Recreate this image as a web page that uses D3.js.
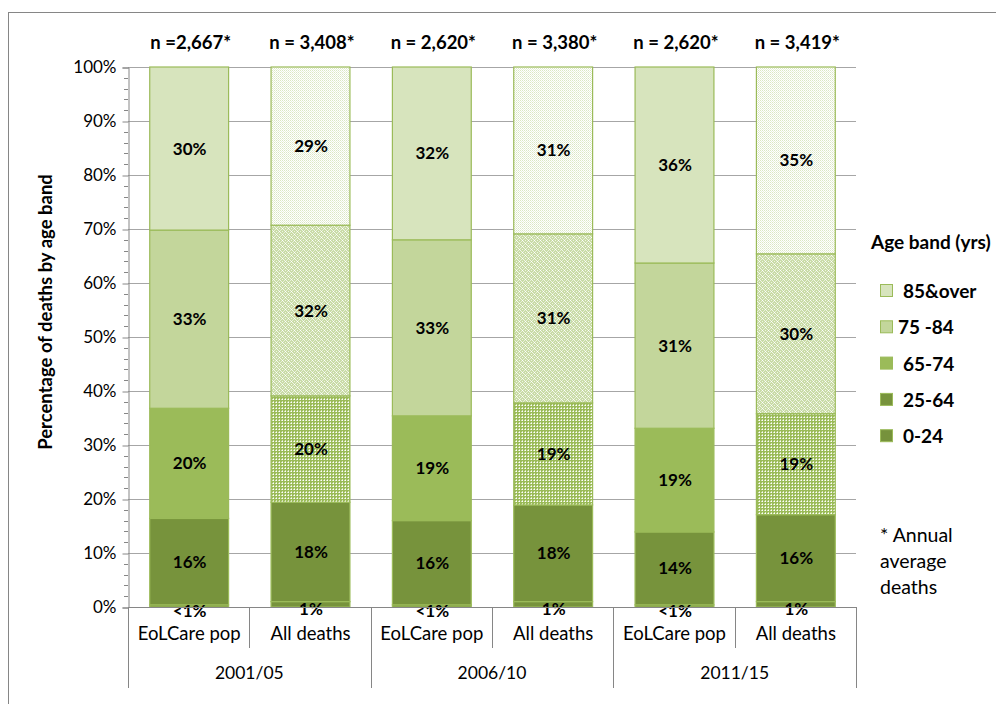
<!DOCTYPE html>
<html>
<head>
<meta charset="utf-8">
<script src="https://cdn.jsdelivr.net/npm/d3@7"></script>
<style>
  html, body { margin: 0; padding: 0; background: #fff; }
  svg { display: block; font-family: Lato, "Open Sans", sans-serif; }
</style>
</head>
<body>
<svg id="chart" width="996" height="704"></svg>
<script>
// Periods and population types along the x axis
const periods = ["2001/05", "2006/10", "2011/15"];
const popTypes = ["EoLCare pop", "All deaths"];
const nLabels = ["n =2,667*", "n = 3,408*", "n = 2,620*", "n = 3,380*", "n = 2,620*", "n = 3,419*"];

// Age bands, bottom to top of each stack
const ageBands = ["0-24", "25-64", "65-74", "75-84", "85&over"];
const legendNames = ["0-24", "25-64", "65-74", "75 -84", "85&over"];

// Percentage of deaths per age band, one array per age band (6 bars each)
const band0to24  = [0.4, 1.0, 0.4, 1.0, 0.4, 1.0];
const band25to64 = [16.0, 18.4, 15.6, 17.9, 13.5, 16.1];
const band65to74 = [20.4, 19.7, 19.4, 18.9, 19.2, 18.7];
const band75to84 = [33.0, 31.6, 32.6, 31.3, 30.6, 29.6];
const band85plus = [30.2, 29.3, 32.0, 30.9, 36.3, 34.6];

const yTicks = [0, 10, 20, 30, 40, 50, 60, 70, 80, 90, 100];

const rows = d3.range(6).map(i => ({
  idx: i,
  period: periods[Math.floor(i / 2)],
  type: popTypes[i % 2],
  "0-24": band0to24[i],
  "25-64": band25to64[i],
  "65-74": band65to74[i],
  "75-84": band75to84[i],
  "85&over": band85plus[i]
}));

const svg = d3.select("#chart");

// Patterns for the "All deaths" bars
const defs = svg.append("defs");
function pat(id, size, base, cells) {
  const p = defs.append("pattern").attr("id", id).attr("width", size).attr("height", size)
    .attr("patternUnits", "userSpaceOnUse");
  p.append("rect").attr("width", size).attr("height", size).attr("fill", base);
  cells.forEach(c => p.append("rect").attr("x", c[0]).attr("y", c[1]).attr("width", c[2] || 1).attr("height", c[3] || 1).attr("fill", c[4]));
}
pat("p85", 2, "#ffffff", [[0, 0, 1, 1, "#dae7c4"], [1, 1, 1, 1, "#e8f0db"]]);
pat("p75", 6, "#c9dba6", [[0, 0, 1, 1, "#ffffff"], [3, 3, 1, 1, "#ffffff"], [1, 1, 1, 1, "#f2f7ea"], [2, 2, 1, 1, "#eef4e3"], [4, 4, 1, 1, "#f2f7ea"], [5, 5, 1, 1, "#eef4e3"], [0, 3, 1, 1, "#eef4e3"], [3, 0, 1, 1, "#eef4e3"], [1, 5, 1, 1, "#e8f0da"], [5, 1, 1, 1, "#e8f0da"], [2, 4, 1, 1, "#e8f0da"], [4, 2, 1, 1, "#e8f0da"]]);
pat("p65", 3, "#9bbb59", [[0, 0, 1, 1, "#ffffff"], [2, 0, 1, 1, "#d6e5b8"], [0, 2, 1, 1, "#d6e5b8"]]);

const solid = { "0-24": "#77933c", "25-64": "#77933c", "65-74": "#9bbb59", "75-84": "#c3d69b", "85&over": "#d7e4bd" };
const patterned = { "0-24": "#77933c", "25-64": "#77933c", "65-74": "url(#p65)", "75-84": "url(#p75)", "85&over": "url(#p85)" };
const legendColor = { "0-24": "#76923c", "25-64": "#77933c", "65-74": "#9bbb59", "75-84": "#c3d69b", "85&over": "#d7e4bd" };

// Outer chart frame
svg.append("rect").attr("x", 8.5).attr("y", 12.5).attr("width", 1000).attr("height", 1000)
  .attr("fill", "none").attr("stroke", "#868686").attr("stroke-width", 1);

const plotLeft = 128, plotRight = 856, plotTop = 67, plotBottom = 607;
const x = d3.scaleBand().domain(d3.range(6)).range([plotLeft, plotRight]).paddingInner(0.35).paddingOuter(0.175);
const y = d3.scaleLinear().domain([0, 100]).range([plotBottom, plotTop]);

// Gridlines
svg.append("g").selectAll("line").data(yTicks.filter(t => t > 0)).join("line")
  .attr("x1", plotLeft).attr("x2", plotRight)
  .attr("y1", d => Math.round(y(d)) + 0.5).attr("y2", d => Math.round(y(d)) + 0.5)
  .attr("stroke", "#a6a6a6").attr("stroke-width", 1);

// Y axis with minor ticks every 2%
const minor = d3.range(0, 101, 2).filter(v => v % 10 !== 0);
svg.append("g").selectAll("line").data(minor).join("line")
  .attr("x1", plotLeft - 4).attr("x2", plotLeft)
  .attr("y1", d => Math.round(y(d)) + 0.5).attr("y2", d => Math.round(y(d)) + 0.5)
  .attr("stroke", "#868686");
const yAxis = d3.axisLeft(y).tickValues(yTicks).tickFormat(d => d + "%").tickSize(6).tickPadding(6);
const ya = svg.append("g").attr("transform", `translate(${plotLeft + 0.5},0.5)`).call(yAxis);
ya.select(".domain").attr("stroke", "#868686");
ya.selectAll(".tick line").attr("stroke", "#868686");
ya.selectAll(".tick text").attr("font-size", 17).attr("fill", "#000").attr("font-family", "Lato, sans-serif");

// Stacked bars
const stack = d3.stack().keys(ageBands)(rows);
const gBars = svg.append("g");
stack.forEach(layer => {
  const key = layer.key;
  gBars.append("g").selectAll("rect").data(layer).join("rect")
    .attr("x", d => x(d.data.idx) + 0.5)
    .attr("width", x.bandwidth())
    .attr("y", d => y(d[1]))
    .attr("height", d => y(d[0]) - y(d[1]))
    .attr("fill", d => d.data.idx % 2 === 0 ? solid[key] : patterned[key])
    .attr("stroke", "#9bbb59")
    .attr("stroke-width", 1.2);
});

// Value labels
const fmt = v => v < 1 ? "<1%" : Math.round(v) + "%";
stack.forEach(layer => {
  const key = layer.key;
  svg.append("g").selectAll("text").data(layer).join("text")
    .attr("x", d => x(d.data.idx) + x.bandwidth() / 2 + 1)
    .attr("y", d => key === "0-24" ? plotBottom + (d.data[key] < 1 ? 10 : 8) : (y(d[0]) + y(d[1])) / 2 + 6)
    .attr("text-anchor", "middle").attr("font-size", 17).attr("font-weight", "bold")
    .attr("fill", "#000")
    .text(d => fmt(d.data[key]));
});

// n labels above bars
svg.append("g").selectAll("text").data(nLabels).join("text")
  .attr("x", (d, i) => x(i) + x.bandwidth() / 2 + 2)
  .attr("y", 49).attr("text-anchor", "middle")
  .attr("font-size", 18.5).attr("font-weight", "bold").text(d => d);

// X axis: baseline, category labels and group separators
svg.append("line").attr("x1", plotLeft).attr("x2", plotRight).attr("y1", plotBottom + 0.5).attr("y2", plotBottom + 0.5).attr("stroke", "#868686");
const step = x.step();
d3.range(7).forEach(i => {
  const xx = Math.round(plotLeft + i * step) + 0.5;
  svg.append("line").attr("x1", xx).attr("x2", xx).attr("y1", plotBottom)
    .attr("y2", i % 2 === 0 ? 688 : 648).attr("stroke", "#868686");
});
svg.append("g").selectAll("text").data(rows).join("text")
  .attr("x", d => x(d.idx) + x.bandwidth() / 2 + 0.5).attr("y", 640)
  .attr("text-anchor", "middle").attr("font-size", 18.5).text(d => d.type);
svg.append("g").selectAll("text").data(periods).join("text")
  .attr("x", (d, i) => plotLeft + (i * 2 + 1) * step).attr("y", 679)
  .attr("text-anchor", "middle").attr("font-size", 17.5).text(d => d);

// Y axis title
svg.append("text").attr("transform", `translate(52,312) rotate(-90)`)
  .attr("text-anchor", "middle").attr("font-size", 18.5).attr("font-weight", "bold")
  .text("Percentage of deaths by age band");

// Legend
svg.append("text").attr("x", 871).attr("y", 249).attr("font-size", 19).attr("font-weight", "bold").text("Age band (yrs)");
const legendKeys = ageBands.slice().reverse();
const lg = svg.append("g").selectAll("g").data(legendKeys).join("g")
  .attr("transform", (d, i) => `translate(880,${284 + i * 36.3})`);
lg.append("rect").attr("x", 0.5).attr("y", 0.5).attr("width", 12).attr("height", 12)
  .attr("fill", d => legendColor[d]).attr("stroke", "#9bbb59");
lg.append("text").attr("x", (d) => d === "75-84" ? 18 : 23).attr("y", 14)
  .attr("font-size", 19).attr("font-weight", "bold")
  .text(d => legendNames[ageBands.indexOf(d)]);

// Footnote
const note = svg.append("text").attr("font-size", 19.5);
["* Annual", "average", "deaths"].forEach((t, i) => {
  note.append("tspan").attr("x", 880).attr("y", 542 + i * 26).text(t);
});
</script>
</body>
</html>
